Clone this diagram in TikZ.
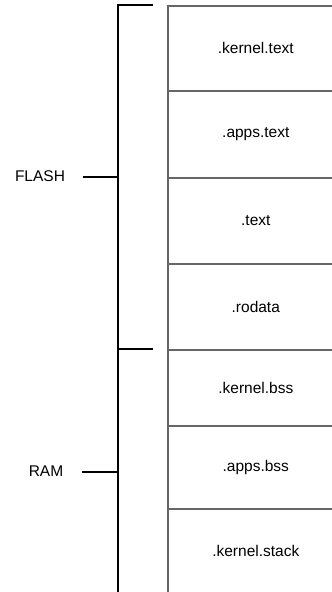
\documentclass[tikz,border=0pt]{standalone}
\usepackage{fontspec}
\setmainfont{Liberation Sans}
\definecolor{segline}{HTML}{666666}
\tikzset{
  seg/.style={draw=segline, line width=1.6pt, rectangle, anchor=north west,
    minimum width=176pt, inner sep=0pt, font=\fontsize{15.5}{18}\selectfont},
  brace/.style={draw=black, line width=2.2pt},
  lbl/.style={font=\fontsize{15.5}{18}\selectfont, inner sep=0pt}
}
\begin{document}
\begin{tikzpicture}[x=1pt, y=-1pt]
  \useasboundingbox (0,0) rectangle (332,592);
  % memory sections, top to bottom
  \node[seg, minimum height=85pt] (ktext) at (167,5)   {.kernel.text};
  \node[seg, minimum height=87pt] (atext) at (167,90)  {.apps.text};
  \node[seg, minimum height=86pt] (text)  at (167,177) {.text};
  \node[seg, minimum height=86pt] (ro)    at (167,263) {.rodata};
  \node[seg, minimum height=76pt] (kbss)  at (167,349) {.kernel.bss};
  \node[seg, minimum height=83pt] (abss)  at (167,425) {.apps.bss};
  \node[seg, minimum height=84pt] (kstk)  at (167,508) {.kernel.stack};
  % region brackets
  \coordinate (ftop) at (118,5);
  \coordinate (fend) at (153,5);
  \coordinate (split) at (118,349);
  \coordinate (send) at (153,349);
  \coordinate (bot) at (118,592);
  \coordinate (fmid) at (118,177);
  \coordinate (rmid) at (118,472);
  \draw[brace] (fend) -- (ftop) -- (bot);
  \draw[brace] (split) -- (send);
  \node[lbl] (flash) at (40,176) {FLASH};
  \node[lbl] (ram)   at (46,471) {RAM};
  \coordinate (fl) at (83,177);
  \coordinate (rl) at (82,472);
  \draw[brace] (fl) -- (fmid);
  \draw[brace] (rl) -- (rmid);
\end{tikzpicture}
\end{document}
